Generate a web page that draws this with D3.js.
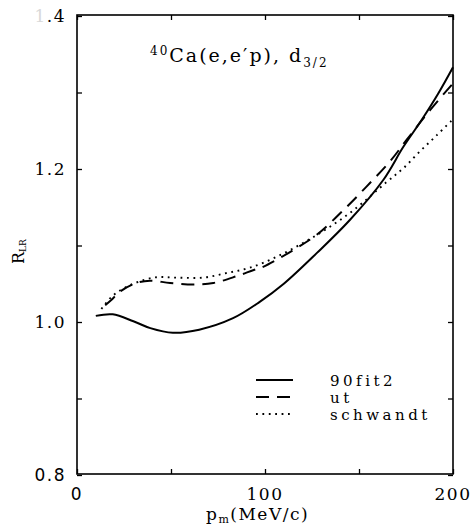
<!DOCTYPE html>
<html>
<head>
<meta charset="utf-8">
<script src="https://cdn.jsdelivr.net/npm/d3@7"></script>
<style>
	body { margin: 0; background: white; }
	svg { display: block; }
	text { font-family: "DejaVu Serif", serif; fill: black; }
</style>
</head>
<body>
<div id="chartDiv"></div>
<script>
const w = 473
const h = 529
const body = d3.select("body")

// values
const pSolid = [10, 19, 30, 39, 51, 65, 83, 97, 110, 127.5, 145, 163, 173.6, 183.3, 192, 200]
const rSolid = [1.008, 1.010, 1.001, 0.992, 0.986, 0.990, 1.005, 1.026, 1.050, 1.090, 1.133, 1.186, 1.229, 1.264, 1.298, 1.333]

const pDashed = [15, 18.4, 23, 31.7, 38.8, 49.5, 62, 72.5, 85, 94, 99, 115, 127.5, 140.8, 154, 166.5, 175.3, 187.8, 200]
const rDashed = [1.022, 1.029, 1.040, 1.051, 1.054, 1.051, 1.049, 1.051, 1.060, 1.068, 1.072, 1.094, 1.114, 1.144, 1.177, 1.210, 1.238, 1.277, 1.312]

const pDotted = [13, 18.4, 26.4, 40.6, 53, 67, 79.6, 92, 106, 120, 133, 147, 164.7, 173.6, 182.4, 191.3, 200]
const rDotted = [1.017, 1.033, 1.046, 1.058, 1.058, 1.058, 1.064, 1.071, 1.085, 1.103, 1.122, 1.146, 1.183, 1.201, 1.223, 1.244, 1.265]

const xTicks = [0, 50, 100, 150, 200]
const xLabels = [0, 100, 200]
const yTicks = [0.8, 0.9, 1.0, 1.1, 1.2, 1.3, 1.4]
const yLabels = ["0.8", "1.0", "1.2", "1.4"]
const legendNames = ["90fit2", "ut", "schwandt"]

let toPoints = (xs, ys) => xs.map((x, i) => ({ x: x, y: ys[i] }))

const series = [
	{ name: legendNames[0], pts: toPoints(pSolid, rSolid), dash: null },
	{ name: legendNames[1], pts: toPoints(pDashed, rDashed), dash: "13,8" },
	{ name: legendNames[2], pts: toPoints(pDotted, rDotted), dash: "1.8,4.6" }
]

const mLeft = 77, mRight = 453, mTop = 16, mBottom = 475

let xScale = d3.scaleLinear()
	.domain([0, 200])
	.range([mLeft, mRight])

let yScale = d3.scaleLinear()
	.domain([0.8, 1.4])
	.range([mBottom, mTop])

let svg = body.select("#chartDiv")
	.append("svg")
	.attr("width", w)
	.attr("height", h)

// frame
svg.append("rect")
	.attr("x", mLeft)
	.attr("y", mTop - 1)
	.attr("width", mRight - mLeft)
	.attr("height", mBottom - mTop)
	.attr("fill", "none")
	.attr("stroke", "black")
	.attr("stroke-width", 1.6)

// inward ticks on all sides
let tk = 5
svg.append("g")
	.attr("transform", "translate(0," + (mBottom - 1) + ")")
	.call(d3.axisBottom(xScale).tickValues(xTicks).tickSize(-tk).tickFormat(""))
svg.append("g")
	.attr("transform", "translate(0," + (mTop - 1) + ")")
	.call(d3.axisTop(xScale).tickValues(xTicks).tickSize(-tk).tickFormat(""))
svg.append("g")
	.attr("transform", "translate(" + mLeft + ",0)")
	.call(d3.axisLeft(yScale).tickValues(yTicks).tickSize(-tk).tickFormat(""))
svg.append("g")
	.attr("transform", "translate(" + mRight + ",0)")
	.call(d3.axisRight(yScale).tickValues(yTicks).tickSize(-tk).tickFormat(""))
svg.selectAll(".domain").remove()
svg.selectAll(".tick line").attr("stroke", "black").attr("stroke-width", 1.3)

// tick labels
svg.selectAll(".xlab")
	.data(xLabels)
	.enter()
	.append("text")
	.attr("class", "xlab")
	.attr("x", d => xScale(d))
	.attr("y", 500)
	.attr("text-anchor", "middle")
	.attr("font-size", 17)
	.attr("letter-spacing", 1.5)
	.style("font-family", d => d == 0 ? "'DejaVu Sans', sans-serif" : null)
	.text(d => d)

svg.selectAll(".ylab")
	.data(yLabels)
	.enter()
	.append("text")
	.attr("class", "ylab")
	.attr("x", 66)
	.attr("y", d => yScale(+d) + 6)
	.attr("text-anchor", "end")
	.attr("font-size", 17)
	.attr("letter-spacing", 1.5)
	.style("font-family", d => d == "0.8" ? "'DejaVu Sans', sans-serif" : null)
	.each(function(d) {
		let t = d3.select(this)
		if (d == "1.4") {
			t.append("tspan").attr("fill", "#d8d8d8").text("1")
			t.append("tspan").text(".4")
		} else {
			t.text(d)
		}
	})

// curves
let line = d3.line()
	.x(d => xScale(d.x))
	.y(d => yScale(d.y))
	.curve(d3.curveCatmullRom)

svg.selectAll(".curve")
	.data(series)
	.enter()
	.append("path")
	.attr("class", "curve")
	.attr("d", d => line(d.pts))
	.attr("fill", "none")
	.attr("stroke", "black")
	.attr("stroke-width", d => d.dash == "1.8,4.6" ? 1.9 : 2)
	.attr("stroke-dasharray", d => d.dash)

// legend
let legend = svg.selectAll(".leg")
	.data(series)
	.enter()
	.append("g")
	.attr("class", "leg")
	.attr("transform", (d, i) => "translate(0," + (380 + i * 17) + ")")

legend.append("line")
	.attr("x1", 256)
	.attr("x2", 293)
	.attr("stroke", "black")
	.attr("stroke-width", d => d.dash == "1.8,4.6" ? 1.9 : 2)
	.attr("stroke-dasharray", d => d.dash)

legend.append("text")
	.attr("x", 330)
	.attr("y", 6)
	.attr("font-size", 15)
	.attr("letter-spacing", 3.5)
	.text(d => d.name)

// title
let title = svg.append("text")
	.attr("x", 150)
	.attr("y", 62)
	.attr("font-size", 19)
	.attr("letter-spacing", 2)
title.append("tspan").attr("font-size", 12).attr("dy", -7).text("40")
title.append("tspan").attr("dy", 7).text("Ca(e,e\u2032p), d")
title.append("tspan").attr("font-size", 12).attr("dy", 5).text("3/2")

// axis titles
let xTitle = svg.append("text")
	.attr("x", 206)
	.attr("y", 520)
	.attr("font-size", 17)
	.attr("letter-spacing", 1.5)
xTitle.append("tspan").text("p")
xTitle.append("tspan").attr("font-size", 11).attr("dy", 3).text("m")
xTitle.append("tspan").attr("dy", -3).text("(MeV/c)")

let yTitle = svg.append("text")
	.attr("transform", "translate(24,264) rotate(-90)")
	.attr("font-size", 16)
yTitle.append("tspan").text("R")
yTitle.append("tspan").attr("font-size", 9).attr("dy", 2).text("LR")
</script>
</body>
</html>
